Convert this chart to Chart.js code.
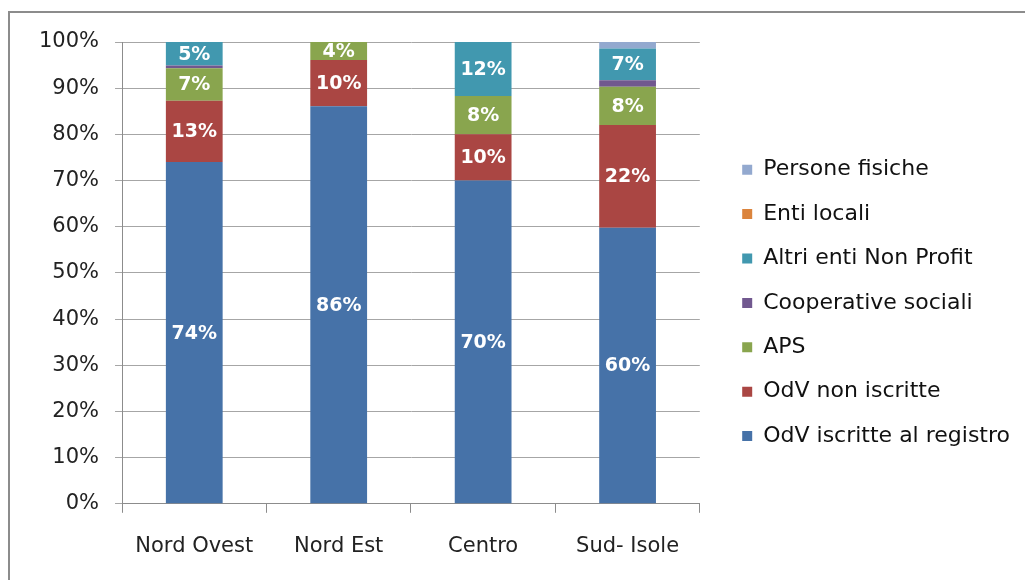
<!DOCTYPE html>
<html lang="it">
<head>
    <meta charset="UTF-8">
    <title>Composizione per area geografica</title>
    <script src="https://cdn.jsdelivr.net/npm/chart.js@4.4.1/dist/chart.umd.min.js"></script>
    <style>
        body {
            margin: 0;
            background-color: white;
            font-family: "DejaVu Sans", sans-serif;
            overflow: hidden;
        }

        .frame {
            position: absolute;
            left: 8px;
            top: 11px;
            width: 1100px;
            height: 700px;
            border: 2px solid #8c8c8c;
        }

        .chartbox {
            position: absolute;
            left: 0;
            top: 0;
            width: 1025px;
            height: 580px;
        }
    </style>
</head>
<body>
    <div class="frame"></div>
    <div class="chartbox">
        <canvas id="barChart"></canvas>
    </div>

    <script>
        // Aree geografiche e quote (%) per tipologia di soggetto
        const areas = ['Nord Ovest', 'Nord Est', 'Centro', 'Sud- Isole'];
        const odvIscritte = [74, 86.1, 70, 59.8];
        const odvNonIscritte = [13.3, 10, 10, 22.2];
        const aps = [7, 3.9, 8.3, 8.3];
        const cooperative = [0.6, 0, 0, 1.4];
        const altriEnti = [5.1, 0, 11.7, 6.9];
        const entiLocali = [0, 0, 0, 0];
        const personeFisiche = [0, 0, 0, 1.4];
        const yTicks = [0, 10, 20, 30, 40, 50, 60, 70, 80, 90, 100];

        // etichette bianche al centro dei segmenti
        const segmentLabels = {
            id: 'segmentLabels',
            afterDatasetsDraw(chart) {
                const ctx = chart.ctx;
                ctx.save();
                ctx.font = 'bold 19px "DejaVu Sans", sans-serif';
                ctx.fillStyle = 'white';
                ctx.textAlign = 'center';
                ctx.textBaseline = 'middle';
                chart.data.datasets.forEach((ds, i) => {
                    chart.getDatasetMeta(i).data.forEach((bar, j) => {
                        const v = ds.data[j];
                        if (v < 3) return;
                        const p = bar.getProps(['x', 'y', 'base'], true);
                        ctx.fillText(Math.round(v) + '%', p.x, (p.y + p.base) / 2 + 1);
                    });
                });
                ctx.restore();
            }
        };

        Chart.defaults.font.family = '"DejaVu Sans", sans-serif';
        Chart.defaults.color = '#333';

        const bar = document.getElementById('barChart').getContext('2d');
        const barChart = new Chart(bar, {
            type: 'bar',
            data: {
                labels: areas,
                datasets: [
                    { label: 'OdV iscritte al registro', data: odvIscritte, backgroundColor: '#4672a8' },
                    { label: 'OdV non iscritte', data: odvNonIscritte, backgroundColor: '#aa4643' },
                    { label: 'APS', data: aps, backgroundColor: '#89a54e' },
                    { label: 'Cooperative sociali', data: cooperative, backgroundColor: '#71588f' },
                    { label: 'Altri enti Non Profit', data: altriEnti, backgroundColor: '#4198af' },
                    { label: 'Enti locali', data: entiLocali, backgroundColor: '#db843d' },
                    { label: 'Persone fisiche', data: personeFisiche, backgroundColor: '#93a9cf' }
                ]
            },
            options: {
                animation: false,
                responsive: true,
                maintainAspectRatio: false,
                barPercentage: 0.393,
                categoryPercentage: 1.0,
                layout: {
                    padding: { left: 23, top: 42, bottom: 0, right: 5 }
                },
                plugins: {
                    tooltip: { enabled: false },
                    legend: {
                        position: 'right',
                        reverse: true,
                        fullSize: false,
                        maxWidth: 400,
                        title: {
                            display: true,
                            text: '',
                            font: { size: 1, lineHeight: 1 },
                            padding: { top: 59, bottom: 0 }
                        },
                        labels: {
                            boxWidth: 10,
                            boxHeight: 10,
                            padding: 22.4,
                            color: '#111',
                            font: { size: 22 }
                        }
                    }
                },
                scales: {
                    x: {
                        stacked: true,
                        grid: {
                            offset: true,
                            drawOnChartArea: false,
                            tickLength: 9,
                            color: '#8c8c8c'
                        },
                        border: { color: '#8c8c8c' },
                        ticks: {
                            padding: 21,
                            color: '#222',
                            font: { size: 21 }
                        }
                    },
                    y: {
                        stacked: true,
                        min: 0,
                        max: 100,
                        afterBuildTicks: scale => {
                            scale.ticks = yTicks.map(v => ({ value: v }));
                        },
                        grid: {
                            color: '#a6a6a6',
                            tickLength: 7
                        },
                        border: { color: '#8c8c8c' },
                        ticks: {
                            padding: 16,
                            color: '#222',
                            font: { size: 21 },
                            callback: v => v + '%'
                        }
                    },
                    gap: {
                        position: 'right',
                        display: true,
                        grid: { display: false },
                        border: { display: false },
                        ticks: { display: false },
                        afterFit: scale => { scale.width = 20; }
                    }
                }
            },
            plugins: [segmentLabels]
        });
    </script>
</body>
</html>
